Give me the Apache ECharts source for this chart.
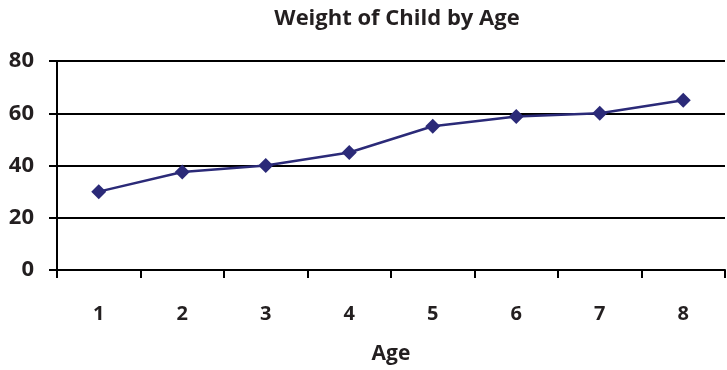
<!DOCTYPE html>
<html>
<head>
<meta charset="UTF-8">
<title>Weight of Child by Age</title>
<style>
  html, body { margin: 0; padding: 0; background: #fff; }
  #chart { width: 727px; height: 370px; }
</style>
</head>
<body>
<div id="chart"></div>
<script src="https://cdn.jsdelivr.net/npm/echarts@6/dist/echarts.min.js"></script>
<script>
// data
var ages = ['1', '2', '3', '4', '5', '6', '7', '8'];
var weights = [30, 37.5, 40, 45, 55, 58.8, 60, 65];
var yTicks = { min: 0, max: 80, interval: 20 };

var ink = '#231f20';
var font = '"Open Sans", "DejaVu Sans", sans-serif';

var chart = echarts.init(document.getElementById('chart'));
chart.setOption({
  animation: false,
  title: {
    text: 'Weight of Child by Age',
    left: 392,
    textAlign: 'center',
    top: 3,
    textStyle: { fontFamily: font, fontSize: 22, fontWeight: 'bold', color: ink }
  },
  grid: { left: 57, right: 2, top: 61, bottom: 99 },
  xAxis: {
    type: 'category',
    data: ages,
    boundaryGap: true,
    name: 'Age',
    nameLocation: 'middle',
    nameGap: 74,
    nameTextStyle: { fontFamily: font, fontSize: 21, fontWeight: 'bold', color: ink },
    axisLine: { lineStyle: { color: '#000', width: 2 } },
    axisTick: { show: true, length: 8, lineStyle: { color: '#000', width: 2 }, alignWithLabel: false },
    axisLabel: { margin: 34, fontFamily: font, fontSize: 20, fontWeight: 'bold', color: ink }
  },
  yAxis: {
    type: 'value',
    min: yTicks.min,
    max: yTicks.max,
    interval: yTicks.interval,
    axisLine: { show: true, lineStyle: { color: '#000', width: 2 } },
    axisTick: { show: true, length: 8, lineStyle: { color: '#000', width: 2 } },
    axisLabel: { margin: 23, fontFamily: font, fontSize: 22, fontWeight: 'bold', color: ink },
    splitLine: { show: true, lineStyle: { color: '#000', width: 2 } }
  },
  series: [{
    type: 'line',
    data: weights,
    symbol: 'diamond',
    symbolSize: 15,
    lineStyle: { color: '#2b2a78', width: 2.5 },
    itemStyle: { color: '#2b2a78' }
  }]
});
</script>
</body>
</html>
